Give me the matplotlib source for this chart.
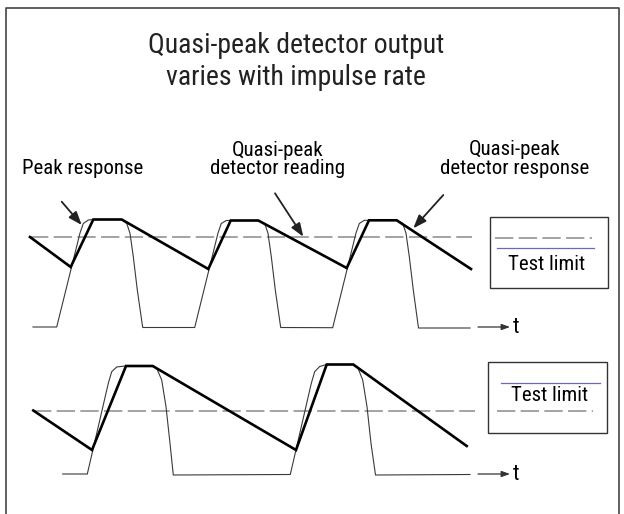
import matplotlib
matplotlib.use('Agg')
import matplotlib.pyplot as plt
import matplotlib.font_manager as fm
from matplotlib.patches import Rectangle

# condensed face, close to the original Univers Condensed
installed = {f.name for f in fm.fontManager.ttflist}
for cand in ['Roboto Condensed', 'Archivo Narrow', 'Barlow Semi Condensed', 'Liberation Sans Narrow']:
    if cand in installed:
        plt.rcParams['font.family'] = [cand, 'DejaVu Sans']
        break

# ==================== diagram data (pixel units, y grows downward) ====================
# upper trace: high impulse rate
top_qp_x = [30, 70.7, 93.3, 121.7, 208.3, 230.7, 258.3, 346.7, 369, 396.7, 471]
top_qp_y = [237, 267, 219.5, 219.5, 269, 220.5, 220.5, 268, 220.3, 220.3, 269]

top_pk_x = [33, 56.7, 80, 83.3, 88.3, 93.3, 121.7, 126.7, 130, 133.3, 137.3, 142.7,
            194.7, 218, 221.3, 226.3, 231, 258.3, 264.7, 268, 271.3, 275.3, 280.7,
            332.7, 356, 359.3, 364.3, 369, 396.7, 402.7, 406, 409.3, 413.3, 418.5, 470]
top_pk_y = [327, 327, 233, 223.5, 220, 219.5, 219.5, 223.3, 233.3, 256.7, 290, 327.5,
            327.5, 233, 223.5, 220.5, 220.5, 220.5, 223.5, 233.3, 256.7, 290, 327.5,
            327.7, 233, 223.5, 220.3, 220.3, 220.3, 223.3, 233.3, 256.7, 290, 328, 328]

top_limit_y = 237
top_limit_x = [30, 472]

# lower trace: low impulse rate
bot_qp_x = [33.3, 92, 126, 152.7, 296, 326.7, 353.3, 466.7]
bot_qp_y = [410.5, 450, 366, 366, 450, 364.5, 364.5, 446]

bot_pk_x = [62.7, 87.3, 108.3, 111.7, 116.7, 125, 152.7, 156.7, 161.7, 166, 170, 173.3,
            290.3, 311.3, 314.7, 319.7, 326.7, 353.3, 357.7, 362.7, 367, 371, 375.5, 470]
bot_pk_y = [474, 474, 383.3, 371.7, 367, 366, 366, 368.3, 380, 406.7, 443.3, 475,
            474.5, 383.3, 371.7, 366.5, 364.5, 364.5, 367.3, 380, 406.7, 443.3, 475, 474.5]

bot_limit_y = 410.7
bot_limit_x = [33, 475]

# time axis arrows
t_arrow_y = [327, 474]
t_arrow_x = [478, 510]

# callout arrows (text-side end, tip)
callouts = [((61.7, 201.7), (81.7, 225)),
            ((275, 193.3), (303.3, 236.7)),
            ((443.3, 195), (413.3, 228.3))]

DASH = (0, (12, 3.5))
THICK = dict(color='black', lw=1.9, solid_joinstyle='miter')
THIN = dict(color='#3a3a3a', lw=0.8)
LIMIT = dict(color='#8a8a8a', lw=1.1, linestyle=DASH)
BLUE = '#6a6ab8'

fig = plt.figure(figsize=(6.24, 5.14), dpi=100)
ax = fig.add_axes([0, 0, 1, 1])
ax.set_xlim(0, 624)
ax.set_ylim(514, 0)
ax.axis('off')

# frame (open at the bottom)
ax.plot([6, 6, 619, 619], [514, 8, 8, 514], color='#444444', lw=1.2)

# titles
ax.text(296.5, 53, 'Quasi-peak detector output', fontsize=20, ha='center', va='baseline', color='#222222')
ax.text(296, 85, 'varies with impulse rate', fontsize=20, ha='center', va='baseline', color='#222222')

# labels
ax.text(83, 174, 'Peak response', fontsize=15, ha='center', va='baseline')
ax.text(278, 156, 'Quasi-peak', fontsize=15, ha='center', va='baseline')
ax.text(278, 174, 'detector reading', fontsize=15, ha='center', va='baseline')
ax.text(515, 155, 'Quasi-peak', fontsize=15, ha='center', va='baseline')
ax.text(515, 174, 'detector response', fontsize=15, ha='center', va='baseline')

# traces
ax.plot(top_limit_x, [top_limit_y] * 2, **LIMIT)
ax.plot(bot_limit_x, [bot_limit_y] * 2, **LIMIT)
ax.plot(top_pk_x, top_pk_y, **THIN)
ax.plot(bot_pk_x, bot_pk_y, **THIN)
ax.plot(top_qp_x, top_qp_y, **THICK)
ax.plot(bot_qp_x, bot_qp_y, **THICK)

for y in t_arrow_y:
    ax.annotate('', xy=(t_arrow_x[1], y), xytext=(t_arrow_x[0], y),
                arrowprops=dict(arrowstyle='-|>,head_length=0.5,head_width=0.18',
                                color='#333333', lw=0.9, shrinkA=0, shrinkB=0))
    ax.text(513, y + 6, 't', fontsize=16, ha='left', va='baseline')

for start, tip in callouts:
    ax.annotate('', xy=tip, xytext=start,
                arrowprops=dict(arrowstyle='-|>,head_length=0.8,head_width=0.3',
                                color='#222222', lw=1.3, shrinkA=0, shrinkB=0))

# legend boxes
ax.add_patch(Rectangle((490, 217.3), 118.3, 71, fill=False, ec='#333333', lw=1.0))
ax.plot([495, 592], [237.7, 237.7], **LIMIT)
ax.plot([496.7, 594], [247.7, 247.7], color=BLUE, lw=0.9)
ax.text(547, 270, 'Test limit', fontsize=15, ha='center', va='baseline')

ax.add_patch(Rectangle((488.3, 361.7), 119, 71.6, fill=False, ec='#333333', lw=1.0))
ax.plot([501, 600], [383.3, 383.3], color=BLUE, lw=0.9)
ax.text(550, 401, 'Test limit', fontsize=15, ha='center', va='baseline')
ax.plot([496.7, 592.7], [410.7, 410.7], **LIMIT)

plt.savefig('out.png', dpi=100)
